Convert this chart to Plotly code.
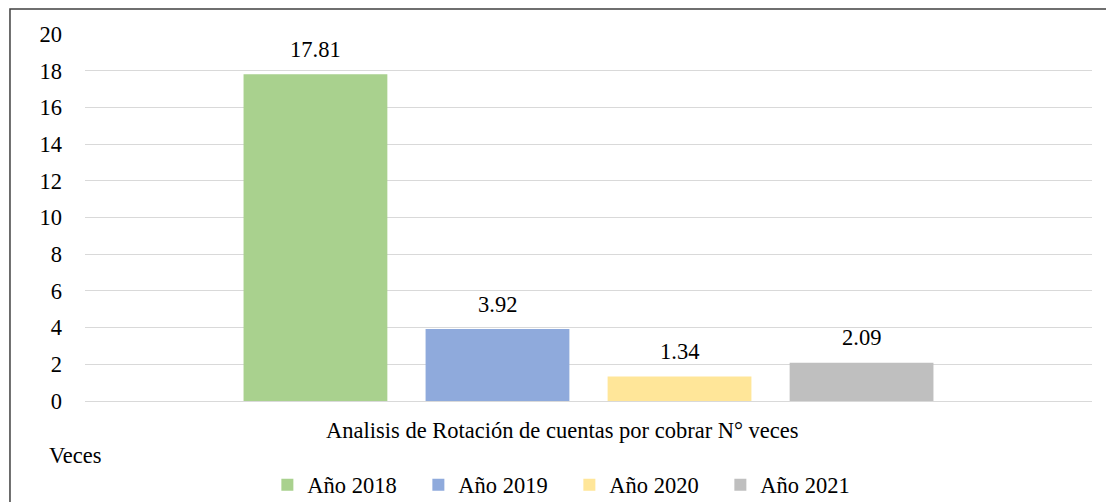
import plotly.graph_objects as go

series = ["Año 2018", "Año 2019", "Año 2020", "Año 2021"]
values = [17.81, 3.92, 1.34, 2.09]
colors = ["#A9D18E", "#8FAADC", "#FFE699", "#BFBFBF"]
category = "Analisis de Rotación de cuentas por cobrar N° veces"
y_title = "Veces"

FONT = "Liberation Serif"
FS = 22.5

fig = go.Figure()
for i, (name, val, col) in enumerate(zip(series, values, colors)):
    fig.add_trace(go.Bar(x=[i], y=[val], name=name, marker_color=col,
                         marker_line_width=0, width=0.79))
    fig.add_annotation(x=i, y=val, text=f"{val:.2f}", showarrow=False,
                       yanchor="middle", yshift=25,
                       font=dict(family=FONT, size=FS))

fig.add_annotation(xref="paper", yref="paper", x=0.474, y=-0.08,
                   text=category, showarrow=False,
                   font=dict(family=FONT, size=FS), yanchor="middle")
fig.add_annotation(xref="paper", yref="paper", x=-0.038, y=-0.148,
                   text=y_title, showarrow=False,
                   font=dict(family=FONT, size=FS),
                   xanchor="left", yanchor="middle")

# chart border (page body has an 8px margin, figure is sized to compensate)
fig.add_shape(type="rect", xref="paper", yref="paper",
              x0=-0.0745, x1=1.05, y0=-0.4, y1=1.068,
              line=dict(color="#404040", width=1.5))

fig.update_layout(
    width=1106, height=530,
    margin=dict(l=77, r=22, t=26, b=137),
    paper_bgcolor="white", plot_bgcolor="white",
    font=dict(family=FONT, size=FS, color="black"),
    barmode="overlay",
    showlegend=True,
    legend=dict(orientation="h", x=0.481, xanchor="center", y=-0.229,
                yanchor="middle", font=dict(family=FONT, size=FS),
                entrywidth=106, entrywidthmode="pixels"),
    xaxis=dict(range=[-1.266, 4.266], showticklabels=False, showgrid=False,
               zeroline=False, showline=False, fixedrange=True),
    yaxis=dict(range=[0, 20], dtick=2, showgrid=True, gridcolor="#D9D9D9",
               gridwidth=1, zeroline=True, zerolinecolor="#D9D9D9",
               zerolinewidth=1, showline=False, ticklabelstandoff=22,
               tickfont=dict(family=FONT, size=FS)),
)

fig.write_html("out.html")
